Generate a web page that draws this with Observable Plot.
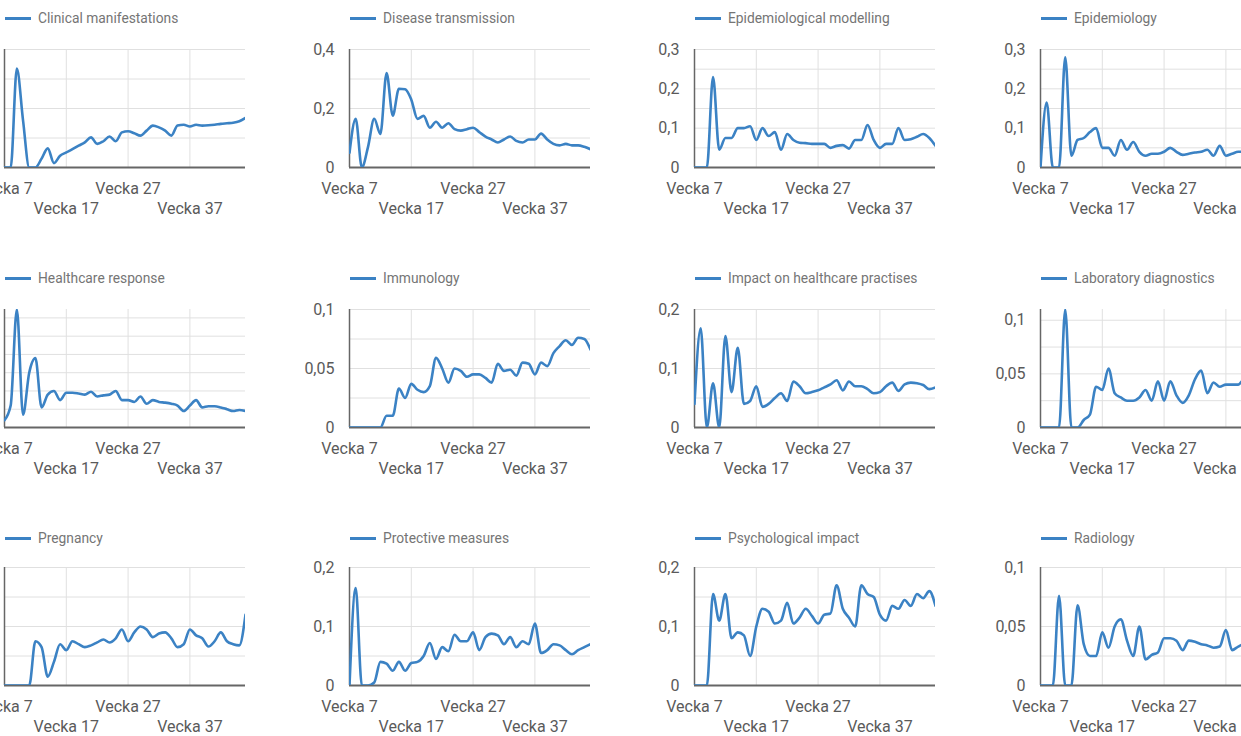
<!DOCTYPE html>
<html><head><meta charset="utf-8">
<script src="https://cdn.jsdelivr.net/npm/d3@7"></script>
<script src="https://cdn.jsdelivr.net/npm/@observablehq/plot@0.6"></script>
<style>
body{margin:0;background:#fff;font-family:Roboto,sans-serif;}
#root{position:relative;width:1241px;height:736px;overflow:hidden;background:#fff;}
.panel{position:absolute;}
.panel svg{max-width:none !important;}
.legend{position:absolute;font-size:13.8px;color:#757575;white-space:nowrap;display:flex;align-items:center;height:16px;}
.legend .sw{display:inline-block;width:26px;height:3px;background:#3b82c4;margin-right:7px;}
</style></head><body><div id="root"></div>
<script>
// ---- data ----
const weeks = [7,8,9,10,11,12,13,14,15,16,17,18,19,20,21,22,23,24,25,26,27,28,29,30,31,32,33,34,35,36,37,38,39,40,41,42,43,44,45,46];
const titles = ["Clinical manifestations","Disease transmission","Epidemiological modelling","Epidemiology",
  "Healthcare response","Immunology","Impact on healthcare practises","Laboratory diagnostics",
  "Pregnancy","Protective measures","Psychological impact","Radiology"];
const clinicalManifestations = [0,0,0.335,0.16,0,0,0.03,0.065,0.015,0.04, 0.051,0.062,0.074,0.085,0.102,0.08,0.089,0.105,0.089,0.119, 0.123,0.116,0.108,0.125,0.142,0.136,0.125,0.108,0.142,0.145, 0.139,0.145,0.142,0.143,0.145,0.148,0.15,0.152,0.157,0.168];
const diseaseTransmission = [0.05,0.165,0,0.07,0.165,0.114,0.32,0.176,0.267,0.265, 0.23,0.165,0.175,0.135,0.155,0.135,0.15,0.13,0.125,0.13, 0.135,0.12,0.105,0.095,0.085,0.095,0.105,0.09,0.085,0.095, 0.095,0.115,0.095,0.08,0.075,0.08,0.075,0.075,0.07,0.062];
const epidemiologicalModelling = [0,0,0,0.23,0.045,0.075,0.075,0.1,0.1,0.105, 0.07,0.1,0.08,0.09,0.045,0.085,0.07,0.063,0.062,0.06, 0.06,0.06,0.05,0.055,0.057,0.048,0.07,0.07,0.108,0.07, 0.05,0.06,0.06,0.1,0.07,0.072,0.078,0.085,0.075,0.055];
const epidemiology = [0,0.165,0,0,0.28,0.03,0.07,0.075,0.09,0.1, 0.05,0.05,0.03,0.07,0.045,0.065,0.04,0.03,0.035,0.035, 0.04,0.05,0.04,0.032,0.035,0.038,0.04,0.045,0.03,0.055, 0.03,0.035,0.04,0.04,0.035,0.04,0.035,0.03,0.035,0.04];
const healthcareResponse = [0.02,0.06,0.323,0.035,0.15,0.19,0.055,0.09,0.1,0.075, 0.095,0.095,0.093,0.09,0.098,0.085,0.088,0.09,0.1,0.075, 0.075,0.07,0.085,0.065,0.075,0.07,0.068,0.065,0.06,0.045, 0.06,0.075,0.055,0.058,0.058,0.055,0.05,0.045,0.048,0.045];
const immunology = [0,0,0,0,0,0,0.01,0.01,0.033,0.025, 0.037,0.032,0.03,0.035,0.059,0.05,0.038,0.05,0.048,0.043, 0.045,0.045,0.042,0.038,0.054,0.048,0.049,0.044,0.055,0.054, 0.045,0.055,0.052,0.063,0.069,0.074,0.07,0.076,0.075,0.066];
const impactOnHealthcarePractises = [0.04,0.168,0,0.075,0,0.155,0.06,0.135,0.04,0.045, 0.07,0.035,0.04,0.05,0.058,0.045,0.078,0.07,0.058,0.06, 0.063,0.068,0.073,0.08,0.063,0.078,0.07,0.07,0.065,0.058, 0.06,0.07,0.076,0.062,0.073,0.076,0.075,0.072,0.065,0.068];
const laboratoryDiagnostics = [0,0,0,0,0.11,0,0,0.007,0.012,0.038, 0.035,0.055,0.032,0.028,0.025,0.025,0.028,0.035,0.025,0.043, 0.025,0.043,0.03,0.023,0.03,0.045,0.053,0.032,0.042,0.038, 0.04,0.04,0.04,0.045,0.038,0.042,0.04,0.036,0.042,0.04];
const pregnancy = [0,0,0,0,0,0.075,0.065,0.015,0.04,0.07, 0.06,0.075,0.07,0.065,0.068,0.073,0.078,0.073,0.08,0.095, 0.075,0.09,0.1,0.095,0.082,0.088,0.09,0.08,0.065,0.07, 0.095,0.085,0.08,0.066,0.075,0.09,0.075,0.07,0.068,0.12];
const protectiveMeasures = [0,0.165,0,0,0.005,0.04,0.037,0.025,0.04,0.025, 0.038,0.04,0.05,0.072,0.045,0.065,0.058,0.086,0.075,0.075, 0.09,0.06,0.082,0.088,0.085,0.07,0.082,0.065,0.075,0.07, 0.105,0.055,0.06,0.07,0.068,0.06,0.053,0.06,0.065,0.07];
const psychologicalImpact = [0,0,0,0.155,0.11,0.155,0.08,0.09,0.085,0.05, 0.1,0.13,0.125,0.105,0.11,0.14,0.105,0.115,0.13,0.118, 0.105,0.12,0.122,0.17,0.13,0.115,0.1,0.17,0.155,0.15, 0.12,0.11,0.135,0.13,0.145,0.135,0.155,0.148,0.16,0.135];
const radiology = [0,0,0,0.076,0,0,0.068,0.035,0.025,0.025, 0.045,0.032,0.05,0.056,0.038,0.025,0.05,0.022,0.026,0.028, 0.04,0.04,0.038,0.03,0.038,0.037,0.035,0.034,0.032,0.033, 0.047,0.03,0.033,0.035,0.032,0.03,0.036,0.033,0.03,0.032];
const seriesValues = [clinicalManifestations, diseaseTransmission, epidemiologicalModelling, epidemiology,
  healthcareResponse, immunology, impactOnHealthcarePractises, laboratoryDiagnostics,
  pregnancy, protectiveMeasures, psychologicalImpact, radiology];
// y axis: max, grid step, label step
const yMax = [0.4, 0.4, 0.3, 0.3, 0.323, 0.1, 0.2, 0.11, 0.2, 0.2, 0.2, 0.1];
const yGridStep = [0.1, 0.1, 0.05, 0.05, 0.05, 0.025, 0.05, 0.025, 0.05, 0.05, 0.05, 0.025];
const yLabelStep = [0.2, 0.2, 0.1, 0.1, 0.1, 0.05, 0.1, 0.05, 0.1, 0.1, 0.1, 0.05];
const xTickRow1 = [7, 27];
const xTickRow2 = [17, 37];
const xGrid = [17, 27, 37];

// ---- layout ----
const colLeft = [4, 349, 694, 1040];
const rowTop = [49, 309, 567];
const legendY = [18, 278, 538];
const PW = 241, PH = 118;
const mL = 60, mR = 6, mT = 10, mB = 52;
const BLUE = "#3b82c4";
const fmt = d => String(+d.toFixed(4)).replace(".", ",");
const steps = (max, step) => { const out = []; for (let k = 0; k * step <= max + 1e-9; k++) out.push(+(k * step).toFixed(4)); return out; };

const root = document.getElementById("root");
seriesValues.forEach((vals, i) => {
  const r = Math.floor(i / 4), c = i % 4;
  const data = weeks.map((w, j) => ({week: w, value: vals[j]}));
  const grid = steps(yMax[i], yGridStep[i]).filter(v => v > 0);
  const labels = c === 0 ? [] : steps(yMax[i] + 1e-6, yLabelStep[i]);
  const W = mL + PW + mR, H = mT + PH + mB;
  const chart = Plot.plot({
    width: W, height: H,
    marginLeft: mL, marginRight: mR, marginTop: mT, marginBottom: mB,
    style: {fontFamily: "Roboto, sans-serif", fontSize: "16px", color: "#5a5a5a", background: "transparent", overflow: "visible", maxWidth: "none"},
    x: {domain: [7, 46], axis: null},
    y: {domain: [0, yMax[i]], axis: null},
    marks: [
      Plot.gridY({ticks: grid, stroke: "#e0e0e0", strokeOpacity: 1, strokeWidth: 1}),
      Plot.gridX({ticks: xGrid, stroke: "#e0e0e0", strokeOpacity: 1, strokeWidth: 1}),
      labels.length ? Plot.axisY({ticks: labels, tickSize: 0, tickPadding: 15, tickFormat: fmt, label: null, fontSize: 16, fill: "#5a5a5a"}) : null,
      Plot.axisX({ticks: xTickRow1, tickSize: 0, tickPadding: 15, tickFormat: d => "Vecka " + d, label: null, fontSize: 16, fill: "#5a5a5a"}),
      Plot.axisX({ticks: xTickRow2, tickSize: 0, tickPadding: 35, tickFormat: d => "Vecka " + d, label: null, fontSize: 16, fill: "#5a5a5a"}),
      Plot.ruleX([7], {stroke: "#666", strokeWidth: 1.5}),
      Plot.ruleY([0], {stroke: "#666", strokeWidth: 2}),
      Plot.line(data, {x: "week", y: "value", stroke: BLUE, strokeWidth: 2.6, curve: "monotone-x", clip: true})
    ]
  });
  const panel = document.createElement("div");
  panel.className = "panel";
  panel.style.left = (colLeft[c] - mL) + "px";
  panel.style.top = (rowTop[r] - mT) + "px";
  panel.style.width = W + "px";
  panel.style.height = H + "px";
  panel.appendChild(chart);
  root.appendChild(panel);
  const lg = document.createElement("div");
  lg.className = "legend";
  lg.style.left = (colLeft[c] + 1) + "px";
  lg.style.top = (legendY[r] - 8) + "px";
  lg.innerHTML = `<span class="sw"></span><span>${titles[i]}</span>`;
  root.appendChild(lg);
});
</script></body></html>
